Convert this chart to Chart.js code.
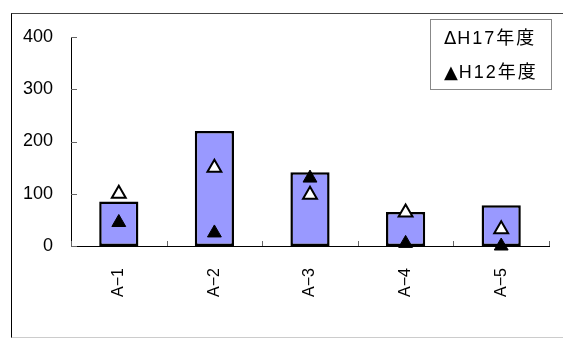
<!DOCTYPE html>
<html>
<head>
<meta charset="utf-8">
<script src="https://cdn.jsdelivr.net/npm/chart.js@4/dist/chart.umd.min.js"></script>
<style>
  html, body { margin: 0; padding: 0; background: #fff; overflow: hidden; }
  #frame {
    position: absolute; left: 11px; top: 13px; width: 600px; height: 323px;
    border-left: 1px solid #000; border-top: 1px solid #444; border-bottom: 1px solid #ccc;
  }
  #chart { position: absolute; left: 0; top: 0; }
</style>
</head>
<body>
<div id="frame"></div>
<canvas id="chart" width="563" height="338"></canvas>
<script>
// --- data ---
const categories = ["A\u22121", "A\u22122", "A\u22123", "A\u22124", "A\u22125"];
const barValues = [85, 220, 141, 65, 78];
const h17Values = [100, 150, 98, 64, 32];
const h12Values = [45, 25, 130, 5, 0];
const yTicks = [0, 100, 200, 300, 400];

const LATIN = "'Liberation Sans', Arial, sans-serif";
const CJK = "'Liberation Sans', 'Noto Sans CJK JP', sans-serif";

// short tick marks drawn inward from both axes
const innerTicks = {
  id: "innerTicks",
  afterDatasetsDraw(chart) {
    const { ctx, scales: { x, y } } = chart;
    ctx.save();
    ctx.strokeStyle = "#666";
    ctx.lineWidth = 1;
    ctx.beginPath();
    y.ticks.forEach((t, i) => {
      const py = Math.round(y.getPixelForTick(i)) + 0.5;
      ctx.moveTo(x.left, py);
      ctx.lineTo(x.left + 6, py);
    });
    for (let i = 0; i <= categories.length; i++) {
      const px = Math.round(x.left + (x.right - x.left) * i / categories.length) + 0.5;
      ctx.moveTo(px, y.bottom);
      ctx.lineTo(px, y.bottom - 5);
    }
    ctx.stroke();
    ctx.restore();
  }
};

// boxed legend sitting in the top-right corner of the plot
const boxLegend = {
  id: "boxLegend",
  afterDraw(chart) {
    const { ctx, chartArea } = chart;
    const items = chart.data.datasets.filter(d => d.legendMark);
    const w = 121, h = 70;
    const left = chartArea.right - w + 2;
    const top = 19;
    ctx.save();
    ctx.fillStyle = "#fff";
    ctx.fillRect(left, top, w, h);
    ctx.strokeStyle = "#888";
    ctx.lineWidth = 1;
    ctx.strokeRect(left + 0.5, top + 0.5, w, h);
    ctx.fillStyle = "#000";
    ctx.textBaseline = "middle";
    items.forEach((d, i) => {
      const ty = top + 20 + i * 34;
      ctx.font = "18px 'DejaVu Sans', sans-serif";
      ctx.letterSpacing = "0px";
      ctx.fillText(d.legendMark, left + 14, ty);
      const mw = ctx.measureText(d.legendMark).width;
      ctx.font = "18px " + CJK;
      ctx.letterSpacing = "2px";
      ctx.fillText(d.label, left + 14 + mw + 1, ty);
    });
    ctx.restore();
  }
};

new Chart(document.getElementById("chart"), {
  data: {
    labels: categories,
    datasets: [
      {
        type: "line",
        label: "H17年度",
        legendMark: "\u0394",
        data: h17Values,
        showLine: false,
        pointStyle: "triangle",
        pointRadius: 8,
        pointBorderWidth: 2,
        pointBackgroundColor: "#fff",
        pointBorderColor: "#000",
        clip: false,
        order: 1
      },
      {
        type: "line",
        label: "H12年度",
        legendMark: "\u25B2",
        data: h12Values,
        showLine: false,
        pointStyle: "triangle",
        pointRadius: 8,
        pointBorderWidth: 1,
        pointBackgroundColor: "#000",
        pointBorderColor: "#000",
        clip: false,
        order: 2
      },
      {
        type: "bar",
        label: "計",
        data: barValues,
        backgroundColor: "#9999ff",
        borderColor: "#000",
        borderWidth: 2.5,
        borderSkipped: false,
        categoryPercentage: 1,
        barPercentage: 0.41,
        order: 3
      }
    ]
  },
  options: {
    responsive: false,
    animation: false,
    devicePixelRatio: 1,
    layout: { padding: { top: 37, right: 14, left: 0, bottom: 0 } },
    plugins: { legend: { display: false }, tooltip: { enabled: false } },
    scales: {
      x: {
        grid: { display: false },
        border: { color: "#000", width: 1 },
        ticks: {
          color: "#000",
          font: { family: LATIN, size: 16 },
          minRotation: 90,
          maxRotation: 90,
          padding: 14
        },
        afterFit(scale) { scale.height = 92; }
      },
      y: {
        min: 0,
        max: 400,
        afterBuildTicks(scale) { scale.ticks = yTicks.map(v => ({ value: v })); },
        grid: { display: false },
        border: { color: "#000", width: 1 },
        ticks: {
          color: "#000",
          font: { family: LATIN, size: 18 },
          padding: 10
        },
        afterFit(scale) { scale.width = 71; }
      }
    }
  },
  plugins: [innerTicks, boxLegend]
});
</script>
</body>
</html>
